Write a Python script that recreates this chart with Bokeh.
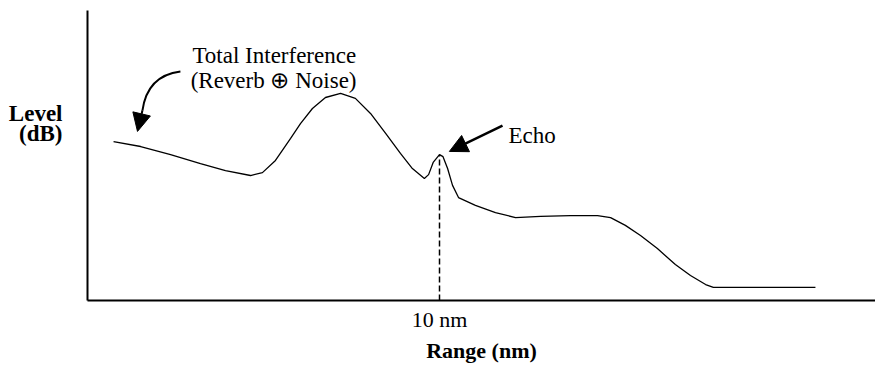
from bokeh.plotting import figure
from bokeh.models import Range1d, FixedTicker, Label, Arrow, NormalHead
from bokeh.embed import file_html
from bokeh.resources import INLINE

# Range (nm) and level (arbitrary dB units)
range_nm = [0.74, 1.51, 2.36, 3.21, 3.92, 4.63, 4.97, 5.34, 5.77, 6.05, 6.39, 6.76,
            7.19, 7.61, 8.04, 8.47, 8.89, 9.23, 9.57, 9.69, 9.82, 10.0, 10.10, 10.23,
            10.37, 10.54, 11.02, 11.59, 12.16, 12.87, 13.72, 14.49, 14.86, 15.28,
            15.71, 16.19, 16.70, 17.13, 17.56, 17.78, 19.12, 20.68]
level_db = [54.8, 53.1, 50.3, 47.2, 44.8, 43.1, 44.1, 48.3, 55.9, 61.0, 66.2, 70.0,
            71.4, 69.7, 64.5, 57.6, 50.7, 45.5, 42.1, 43.4, 47.6, 50.3, 49.6, 45.5,
            39.7, 35.5, 32.8, 30.3, 28.6, 29.0, 29.3, 29.3, 28.6, 25.9,
            22.4, 17.9, 12.4, 8.6, 5.5, 4.5, 4.5, 4.5]
echo_range = 10.0
echo_level = 50.3
x_tick_values = [10]
x_tick_labels = {10: "10 nm"}
y_tick_values = [64.5, 57.6]
y_tick_labels = {64.5: "Level", 57.6: "(dB)"}

SERIF = "Liberation Serif"

p = figure(width=875, height=373, output_backend="svg", toolbar_location=None,
           x_range=Range1d(0, 22.386), y_range=Range1d(0, 100),
           min_border_left=87, min_border_right=0, min_border_top=10,
           min_border_bottom=73)
p.outline_line_color = None
p.grid.visible = False
p.background_fill_color = "white"
p.border_fill_color = "white"

# bottom axis
xa = p.xaxis[0]
xa.ticker = FixedTicker(ticks=x_tick_values)
xa.major_label_overrides = x_tick_labels
xa.major_tick_line_color = None
xa.minor_tick_line_color = None
xa.axis_line_width = 2
xa.axis_line_color = "black"
xa.major_label_text_font = SERIF
xa.major_label_text_font_size = "22px"
xa.major_label_text_color = "black"
xa.major_label_standoff = 0
xa.axis_label = "Range (nm)"
xa.axis_label_text_font = SERIF
xa.axis_label_text_font_size = "22px"
xa.axis_label_text_font_style = "bold"
xa.axis_label_text_color = "black"
xa.axis_label_standoff = 3

# left axis: "Level (dB)" shown as two horizontal labels beside the axis
ya = p.yaxis[0]
ya.ticker = FixedTicker(ticks=y_tick_values)
ya.major_label_overrides = y_tick_labels
ya.major_tick_line_color = None
ya.minor_tick_line_color = None
ya.major_label_text_font = SERIF
ya.major_label_text_font_size = "23px"
ya.major_label_text_font_style = "bold"
ya.major_label_text_color = "black"
ya.major_label_standoff = 19
ya.axis_line_width = 2
ya.axis_line_color = "black"

# main curve
p.line(range_nm, level_db, line_color="black", line_width=1.3)

# dashed marker under echo
p.segment(x0=[echo_range], y0=[0], x1=[echo_range], y1=[echo_level],
          line_color="black", line_width=1.5, line_dash="6 3")

# texts
txt = dict(text_font=SERIF, text_color="black", text_baseline="alphabetic",
           text_align="left", text_font_size="23px")
p.add_layout(Label(x=2.98, y=84.5, text="Total Interference", **txt))
p.add_layout(Label(x=2.93, y=75.9, text="(Reverb \u2295 Noise)", **txt))
p.add_layout(Label(x=11.96, y=56.9, text="Echo", **txt))

# curved arrow to the interference curve
p.quadratic(x0=[2.64], y0=[79.0], x1=[1.56], y1=[65.5], cx=[1.70], cy=[77.6],
            line_color="black", line_width=2)
p.add_layout(Arrow(end=NormalHead(size=18, fill_color="black", line_color="black"),
                   x_start=1.56, y_start=65.5, x_end=1.42, y_end=58.3,
                   line_color="black", line_width=2))

# echo arrow
p.add_layout(Arrow(end=NormalHead(size=18, fill_color="black", line_color="black"),
                   x_start=11.79, y_start=60.3, x_end=10.28, y_end=51.4,
                   line_color="black", line_width=2.5))

open("out.html", "w").write(file_html(p, INLINE))
